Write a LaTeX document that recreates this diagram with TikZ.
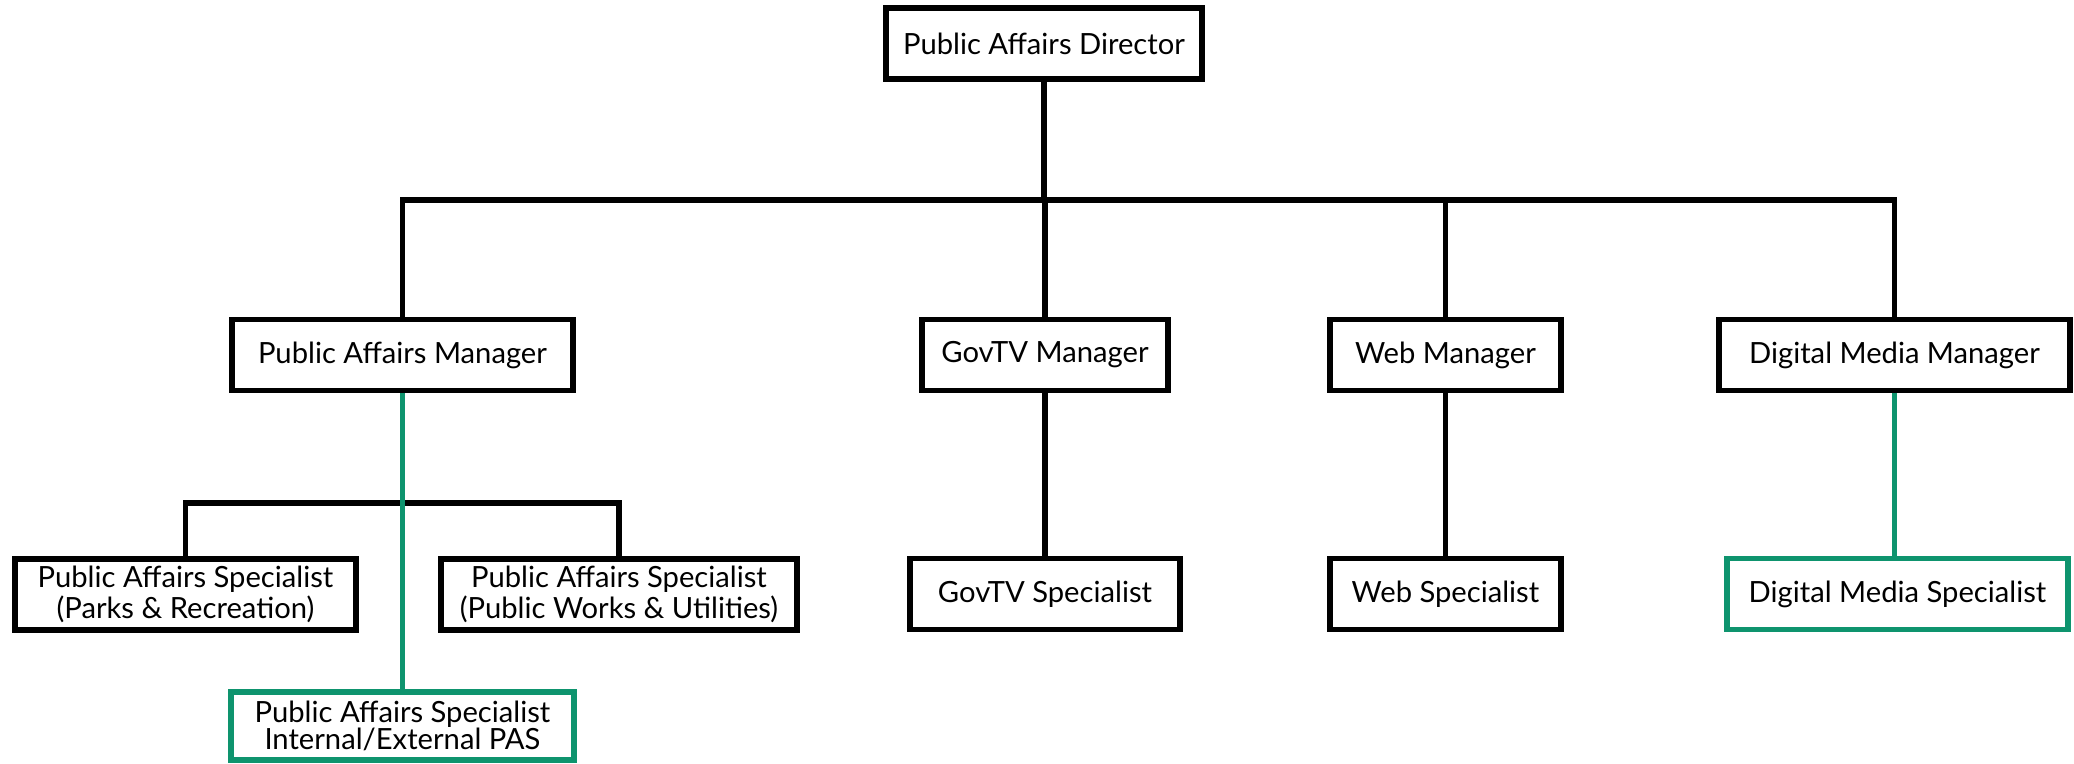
\documentclass[tikz,border=0pt]{standalone}
\usepackage{fontspec}
\setmainfont{Lato}
\usetikzlibrary{positioning}
\definecolor{orgGreen}{RGB}{14,148,110}
\begin{document}
\begin{tikzpicture}[
    x=0.01cm, y=-0.01cm,
    orgBoxStyle/.style={draw=black, line width=1.6pt, fill=white, inner sep=0pt,
        align=center, minimum height=0.71cm, font=\fontsize{8.3pt}{7.7pt}\selectfont},
    orgGreenBoxStyle/.style={orgBoxStyle, draw=orgGreen},
    orgLinkStyle/.style={black, line width=1.5pt},
    orgGreenLinkStyle/.style={orgGreen, line width=1.6pt}
]
    \useasboundingbox (0,0) rectangle (2074,764);

    % top
    \node[orgBoxStyle, minimum width=3.16cm] (dir) at (1044,43.5) {Public Affairs Director};

    % managers
    \node[orgBoxStyle, minimum width=3.41cm] (mgrPA) at (402.5,355) {Public Affairs Manager};
    \node[orgBoxStyle, minimum width=2.46cm] (mgrTV) at (1045,355) {GovTV Manager};
    \node[orgBoxStyle, minimum width=2.31cm] (mgrWeb) at (1445.5,355) {Web Manager};
    \node[orgBoxStyle, minimum width=3.51cm] (mgrDM) at (1894.5,355) {Digital Media Manager};

    % specialists
    \node[orgBoxStyle, minimum width=3.41cm] (spcParks) at (185.5,594.5)
        {Public Affairs Specialist\\(Parks \& Recreation)};
    \node[orgBoxStyle, minimum width=3.56cm] (spcWorks) at (619,594.5)
        {Public Affairs Specialist\\(Public Works \& Utilities)};
    \node[orgBoxStyle, minimum width=2.70cm] (spcTV) at (1045,594) {GovTV Specialist};
    \node[orgBoxStyle, minimum width=2.31cm] (spcWeb) at (1445.5,594) {Web Specialist};
    \node[orgGreenBoxStyle, minimum width=3.41cm] (spcDM) at (1897.5,594) {Digital Media Specialist};
    \node[orgGreenBoxStyle, minimum width=3.43cm, minimum height=0.68cm] (spcPAS) at (402.5,726)
        {Public Affairs Specialist\\Internal/External PAS};

    % bus lines
    \coordinate (bus) at (0,200);
    \coordinate (subBus) at (0,503);
    \draw[orgLinkStyle] (dir.south) -- (dir.south |- bus);
    \draw[orgLinkStyle] (mgrPA.north) |- (mgrDM.north |- bus) -- (mgrDM.north);
    \draw[orgLinkStyle] (mgrTV.north) -- (mgrTV.north |- bus);
    \draw[orgLinkStyle] (mgrWeb.north) -- (mgrWeb.north |- bus);
    \draw[orgLinkStyle] (spcParks.north) |- (spcWorks.north |- subBus) -- (spcWorks.north);
    \draw[orgLinkStyle] (mgrTV.south) -- (spcTV.north);
    \draw[orgLinkStyle] (mgrWeb.south) -- (spcWeb.north);

    % green links
    \draw[orgGreenLinkStyle] (mgrPA.south) -- (spcPAS.north);
    \draw[orgGreenLinkStyle] (mgrDM.south) -- (mgrDM.south |- spcDM.north);
\end{tikzpicture}
\end{document}
